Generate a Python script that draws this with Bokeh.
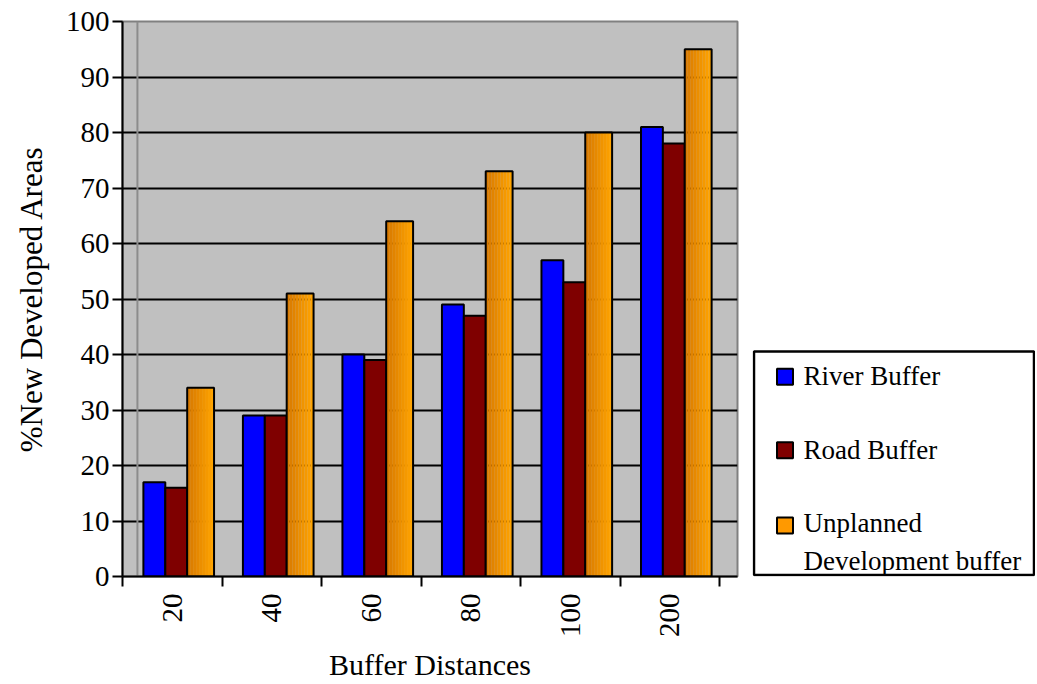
import math
from bokeh.plotting import figure
from bokeh.models import Range1d, FixedTicker, ColumnDataSource
from bokeh.layouts import row
from bokeh.transform import dodge
from bokeh.core.properties import value
from bokeh.embed import file_html
from bokeh.resources import INLINE

# ---------------- data ----------------
categories = ["20", "40", "60", "80", "100", "200"]
river = [17, 29, 40, 49, 57, 81]
road = [16, 29, 39, 47, 53, 78]
unplanned = [34, 51, 64, 73, 80, 95]
series_names = ["River Buffer", "Road Buffer", "Unplanned\nDevelopment buffer"]
colors = ["#0000FF", "#7F0000", "#FF9900"]
y_ticks = list(range(0, 101, 10))
x_title = "Buffer Distances"
y_title = "%New Developed Areas"

FONT = "Liberation Serif"

idx = list(range(len(categories)))
src = ColumnDataSource(dict(i=idx, river=river, road=road, unplanned=unplanned))

H = 684
TOP, BOTTOM = 21, 103

# ---------------- main chart ----------------
p = figure(width=752, height=H, output_backend="svg", toolbar_location=None,
           x_range=Range1d(0, 6.18), y_range=Range1d(0, 100),
           min_border_left=122, min_border_right=15, min_border_top=TOP,
           min_border_bottom=BOTTOM)
p.background_fill_color = "#C0C0C0"
p.border_fill_color = "white"
p.outline_line_color = "#808080"
p.outline_line_width = 2

p.xgrid.visible = False
p.ygrid.ticker = FixedTicker(ticks=y_ticks[1:-1])
p.ygrid.grid_line_color = "black"
p.ygrid.grid_line_width = 2
p.ygrid.grid_line_alpha = 1

# back-wall edge of the plot area
p.segment(x0=[0.15], y0=[y_ticks[0]], x1=[0.15], y1=[y_ticks[-1]],
          line_color="#8C8C8C", line_width=2)

# bars
p.vbar(x=dodge("i", 0.32), top="river", width=0.22, bottom=0, source=src,
       fill_color=colors[0], line_color="black", line_width=2)
p.vbar(x=dodge("i", 0.54), top="road", width=0.22, bottom=0, source=src,
       fill_color=colors[1], line_color="black", line_width=2)
# orange bar with a left-to-right shading
n_strips = 9
c0 = (0xD9, 0x7A, 0x00)
c1 = (0xFF, 0xA4, 0x00)
for k in range(n_strips):
    t = k / (n_strips - 1)
    col = "#%02X%02X%02X" % tuple(int(a + (b - a) * t) for a, b in zip(c0, c1))
    p.vbar(x=dodge("i", 0.65 + 0.015 + 0.03 * k), top="unplanned", width=0.031,
           bottom=0, source=src, fill_color=col, line_color=None)
p.vbar(x=dodge("i", 0.785), top="unplanned", width=0.27, bottom=0, source=src,
       fill_color=None, line_color="black", line_width=2)

# y axis
p.yaxis.ticker = FixedTicker(ticks=y_ticks)
p.yaxis.axis_label = y_title
p.yaxis.axis_label_text_font = FONT
p.yaxis.axis_label_text_font_size = "31px"
p.yaxis.axis_label_text_font_style = "normal"
p.yaxis.axis_label_text_color = "black"
p.yaxis.axis_label_standoff = 14
p.yaxis.major_label_text_font = FONT
p.yaxis.major_label_text_font_size = "29px"
p.yaxis.major_label_text_color = "black"
p.yaxis.major_label_standoff = 3
p.yaxis.major_tick_out = 10
p.yaxis.major_tick_in = 0
p.yaxis.major_tick_line_width = 2
p.yaxis.major_tick_line_color = "black"
p.yaxis.minor_tick_line_color = None
p.yaxis.axis_line_width = 2
p.yaxis.axis_line_color = "black"

# x axis: labels centred on categories, tick marks at category boundaries
p.xaxis.ticker = FixedTicker(ticks=[i + 0.5 for i in idx],
                             minor_ticks=list(range(len(categories) + 1)))
p.xaxis.major_label_overrides = {i + 0.5: c for i, c in zip(idx, categories)}
p.xaxis.major_label_orientation = math.pi / 2
p.xaxis.axis_label = x_title
p.xaxis.axis_label_text_font = FONT
p.xaxis.axis_label_text_font_size = "30px"
p.xaxis.axis_label_text_font_style = "normal"
p.xaxis.axis_label_text_color = "black"
p.xaxis.axis_label_standoff = 8
p.xaxis.major_label_text_font = FONT
p.xaxis.major_label_text_font_size = "29px"
p.xaxis.major_label_text_color = "black"
p.xaxis.major_label_standoff = 7
p.xaxis.major_tick_out = 10
p.xaxis.major_tick_in = 0
p.xaxis.major_tick_line_color = None
p.xaxis.minor_tick_out = 10
p.xaxis.minor_tick_in = 0
p.xaxis.minor_tick_line_width = 2
p.xaxis.minor_tick_line_color = "black"
p.xaxis.axis_line_width = 2
p.xaxis.axis_line_color = "black"

# ---------------- legend panel (screen-like coordinates) ----------------
lg = figure(width=283, height=H, output_backend="svg", toolbar_location=None,
            x_range=Range1d(752, 1035), y_range=Range1d(H - BOTTOM, TOP),
            x_axis_location=None, y_axis_location=None,
            min_border_left=0, min_border_right=0,
            min_border_top=TOP, min_border_bottom=BOTTOM)
lg.grid.visible = False
lg.outline_line_color = None
lg.border_fill_color = "white"
lg.background_fill_color = "white"

lg.quad(left=753.5, right=1033.5, top=354, bottom=579.5, fill_color="white",
        line_color="black", line_width=2.5)
lg.scatter(x=[784.5] * 3, y=[379.5, 453.5, 529.5], marker="square", size=16,
           fill_color=colors, line_color="black", line_width=2)
lg.text(x=[803] * 3, y=[379, 453, 546], text=series_names,
        text_font=value(FONT), text_font_size="27px", text_color="black",
        text_baseline="middle", text_align="left", text_line_height=1.26)

layout = row(p, lg, spacing=0)

with open("out.html", "w") as f:
    f.write(file_html(layout, INLINE))
